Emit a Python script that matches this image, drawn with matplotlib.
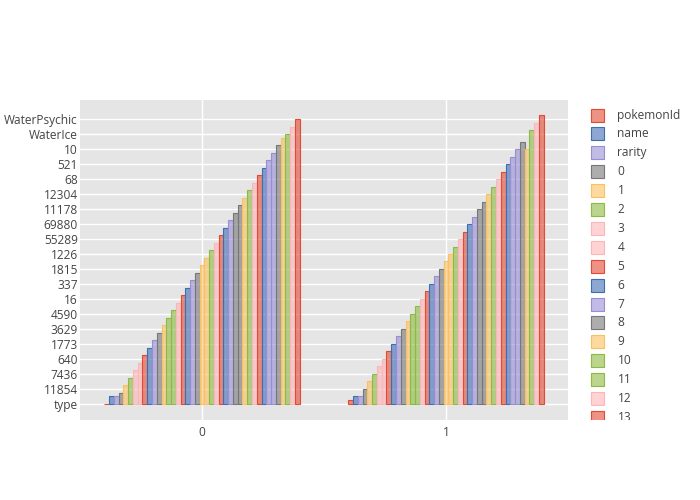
import matplotlib
matplotlib.use('Agg')
import matplotlib.pyplot as plt
import numpy as np
from matplotlib.colors import to_rgba
from matplotlib.patches import Rectangle

plt.rcParams['font.family'] = ['Open Sans', 'DejaVu Sans']

# Series (one bar per column, for each of the two rows 0 and 1)
series = ['pokemonId', 'name', 'rarity'] + [str(i) for i in range(38)]
rows = [0, 1]

# Category position of each bar value on the categorical y axis
cat_row0 = [0, 2, 2, 3, 5, 7, 9, 11, 13, 15, 17, 19, 21, 23, 25, 27, 29, 31, 33, 35,
            37, 39, 41, 43, 45, 47, 49, 51, 53, 55, 57, 59, 61, 63, 65, 67, 69, 71,
            72, 74, 76]
cat_row1 = [1, 2, 2, 4, 6, 8, 10, 12, 14, 16, 18, 20, 22, 24, 26, 28, 30, 32, 34, 36,
            38, 40, 42, 44, 46, 48, 50, 52, 54, 56, 58, 60, 62, 64, 66, 68, 70, 68,
            73, 75, 77]

# Labels shown on the y axis (every fourth category)
ytick_pos = [0, 4, 8, 12, 16, 20, 24, 28, 32, 36, 40, 44, 48, 52, 56, 60, 64, 68, 72, 76]
ytick_labels = ['type', '11854', '7436', '640', '1773', '3629', '4590', '16', '337',
                '1815', '1226', '55289', '69880', '11178', '12304', '68', '521', '10',
                'WaterIce', 'WaterPsychic']

palette = ['#E24A33', '#3F6DB3', '#988ED5', '#777777', '#FBC15E', '#8EBA42', '#FFB5B8']
colors = [palette[(t - t // 7) % 7] for t in range(len(series))]

fig = plt.figure(figsize=(7, 5), dpi=100)
ax = fig.add_axes([80 / 700, 80 / 500, 488 / 700, 320 / 500])
ax.set_facecolor('#E5E5E5')

n = len(series)
w = 0.8 / n
for t, name in enumerate(series):
    off = -0.4 + (t + 0.5) * w
    ax.bar(np.array(rows) + off, [cat_row0[t], cat_row1[t]], width=w,
           facecolor=to_rgba(colors[t], 0.6), edgecolor=colors[t], linewidth=0.8,
           zorder=3)

ax.set_xlim(-0.5, 1.5)
ax.set_ylim(-4.27, 81.07)
ax.set_xticks(rows)
ax.set_xticklabels([str(r) for r in rows])
ax.set_yticks(ytick_pos)
ax.set_yticklabels(ytick_labels)
ax.tick_params(length=0, labelsize=8.6, colors='#444444')
ax.tick_params(axis='y', pad=1.5)
ax.tick_params(axis='x', pad=4)
ax.grid(True, color='white', linewidth=1, zorder=0)
ax.set_axisbelow(True)
for s in ax.spines.values():
    s.set_visible(False)

# Legend (only the entries visible in the scrolling legend box)
lg = fig.add_axes([575 / 700, 80 / 500, 125 / 700, 320 / 500])
lg.set_xlim(575, 700)
lg.set_ylim(420, 100)
lg.axis('off')
for t, name in enumerate(series):
    yc = 115 + 18.9 * t
    if yc > 428:
        break
    lg.add_patch(Rectangle((591, yc - 6.5), 13, 13, facecolor=to_rgba(colors[t], 0.6),
                           edgecolor=colors[t], linewidth=0.8, clip_on=True))
    lg.text(617.5, yc, name, va='center', ha='left', fontsize=8.6, color='#444444',
            clip_on=True)

fig.savefig('out.png', dpi=100)
